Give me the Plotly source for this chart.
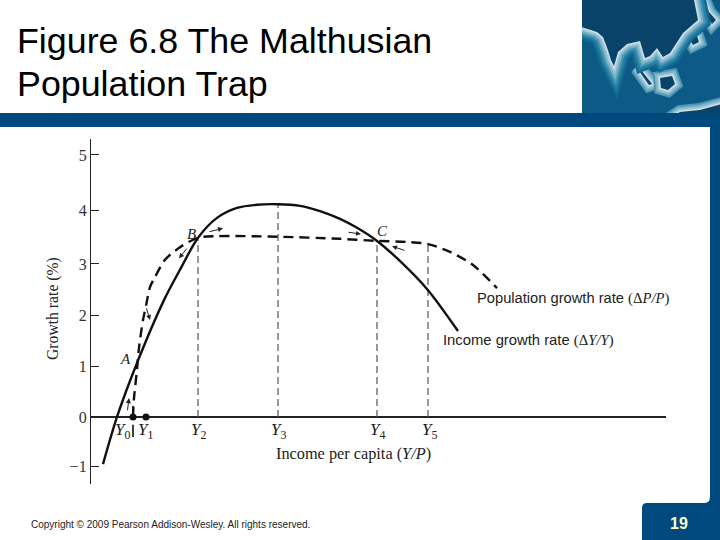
import plotly.graph_objects as go

# values (x axis has no numbers, units are arbitrary)
income_x = [12, 26, 46, 73, 89, 107, 126, 146, 166, 187, 209, 229, 249, 266, 286, 306, 337, 367]
income_y = [-0.90, 0.0, 1.03, 2.23, 2.81, 3.42, 3.80, 3.99, 4.05, 4.06, 4.03, 3.93, 3.78, 3.61, 3.36, 3.03, 2.42, 1.64]

pop_x = [42, 43, 46, 48, 52, 55, 59, 64, 74, 89, 107, 126, 187, 249, 286, 316, 337, 359, 382, 406]
pop_y = [0.0, 0.36, 0.90, 1.32, 1.85, 2.12, 2.48, 2.67, 3.0, 3.24, 3.42, 3.45, 3.44, 3.40, 3.36, 3.34, 3.30, 3.15, 2.90, 2.46]

level_names = ["Y2", "Y3", "Y4", "Y5"]
level_x = [107, 187, 286, 337]
level_top = [3.42, 4.06, 3.36, 3.30]

dot_x = [42, 55]
dot_y = [0, 0]

y_tick_pos = [-0.94, 0, 0.97, 1.93, 2.92, 3.95, 5.0]
y_tick_labels = ["\u22121", "0", "1", "2", "3", "4", "5"]

x_label_pos = [31, 54, 107, 187, 286, 338]
x_label_sub = ["0", "1", "2", "3", "4", "5"]

BLUE = "#00497f"
SANS = "Liberation Sans"
SERIF = "Liberation Serif"


def fx(px):
    return px / 720


def fy(py):
    return 1 - py / 540


def poly(points):
    return "M " + " L ".join(f"{fx(a):.4f},{fy(b):.4f}" for a, b in points) + " Z"


def rect(x0, y0, x1, y1, color):
    return dict(type="rect", xref="paper", yref="paper", x0=fx(x0), x1=fx(x1), y0=fy(y0), y1=fy(y1),
                fillcolor=color, line_width=0, layer="below")


GLOW = [(24, "#136a91"), (19, "#2580a4"), (14, "#4f98b5"), (10, "#7fb3c8"), (6, "#a5c9d8"), (3, "#c9dfe8")]


def land(points, fill="#0a4369", glow=GLOW):
    # coast glow is just the same outline stroked wide, narrow on top
    out = []
    for width, color in glow:
        out.append(dict(type="path", xref="paper", yref="paper", path=poly(points), fillcolor=fill,
                        line=dict(color=color, width=width), layer="below"))
    out.append(dict(type="path", xref="paper", yref="paper", path=poly(points), fillcolor=fill,
                    line_width=0, layer="below"))
    return out


asia = [(575, -10), (575, 25), (597, 32), (603, 37), (608, 50), (611, 60), (614, 66), (618, 52), (627, 44), (640, 41),
        (645, 58), (650, 56), (657, 48), (663, 57), (670, 53), (683, 33), (698, 20), (692, -10)]
borneo = [(660, 78), (672, 76), (675, 84), (668, 90), (661, 88)]
sumatra = [(637, 68), (641, 70), (652, 84), (649, 85)]
australia = [(668, 120), (680, 112), (700, 110), (722, 104), (722, 120)]
japan = [(704, 0), (709, 12), (716, 20), (712, 24), (704, 12)]
islands_small = [(690, 40), (697, 36), (699, 42), (693, 45)]

shapes = [rect(582, 0, 720, 113, "#0d5a86")]
small_glow = GLOW[2:]
for piece in [australia, japan, islands_small, sumatra, borneo]:
    shapes += land(piece, glow=small_glow)
shapes += land(asia)
# white page and blue frame go over the map edges
shapes.append(rect(0, 0, 582, 113.5, "white"))
shapes.append(rect(0, 113, 720, 127, BLUE))
shapes.append(rect(710, 127, 720, 540, BLUE))
shapes.append(dict(type="path", xref="paper", yref="paper", layer="below", fillcolor=BLUE, line_width=0,
                   path=f"M {fx(642)},{fy(540)} L {fx(642)},{fy(508)} Q {fx(642)},{fy(503)} {fx(647)},{fy(503)} "
                        f"L {fx(704)},{fy(503)} Q {fx(710)},{fy(503)} {fx(710)},{fy(497)} L {fx(720)},{fy(497)} "
                        f"L {fx(720)},{fy(540)} Z"))

fig = go.Figure()

for name, x, top in zip(level_names, level_x, level_top):
    fig.add_trace(go.Scatter(x=[x, x], y=[0, top], mode="lines", name=name,
                             line=dict(color="#555555", width=1.2, dash="7px,4px")))

fig.add_trace(go.Scatter(x=pop_x, y=pop_y, mode="lines", name="Population growth rate",
                         line=dict(color="#111111", width=2.4, dash="10px,6px", shape="spline", smoothing=0.8)))
fig.add_trace(go.Scatter(x=income_x, y=income_y, mode="lines", name="Income growth rate",
                         line=dict(color="#111111", width=2.4, shape="spline", smoothing=0.8)))
fig.add_trace(go.Scatter(x=[42, 42], y=[0, 0.21], mode="lines", line=dict(color="#111111", width=1.6)))
fig.add_trace(go.Scatter(x=[42, 42], y=[-0.15, -0.38], mode="lines", line=dict(color="#111111", width=1.6)))
fig.add_trace(go.Scatter(x=dot_x, y=dot_y, mode="markers", marker=dict(color="#111111", size=7)))

annotations = []


def text(px, py, s, size=14, family=SERIF, color="#222222", anchor="center", angle=0):
    annotations.append(dict(xref="paper", yref="paper", x=fx(px), y=fy(py), text=s, showarrow=False,
                            xanchor=anchor, yanchor="middle", align="left", textangle=angle,
                            font=dict(family=family, size=size, color=color)))


for pos, sub in zip(x_label_pos, x_label_sub):
    text(91 + pos, 431, f"<i>Y</i><sub>{sub}</sub>", size=17)

text(353, 453, "Income per capita (<i>Y/P</i>)", size=16.3)
text(53, 309, "Growth rate (%)", size=15.7, angle=-90)
text(125, 359, "<i>A</i>", size=15)
text(191, 234, "<i>B</i>", size=15)
text(382, 231, "<i>C</i>", size=15)

serif_span = f'<span style="font-family:{SERIF}">'
text(475, 298, f"Population growth rate {serif_span}(\u0394<i>P/P</i>)</span>", size=14.7, family=SANS, anchor="left")
text(441, 340, f"Income growth rate {serif_span}(\u0394<i>Y/Y</i>)</span>", size=14.8, family=SANS, anchor="left")

# title and footer
text(15, 41, "Figure 6.8 The Malthusian", size=35.8, family=SANS, color="black", anchor="left")
text(15, 84, "Population Trap", size=35.8, family=SANS, color="black", anchor="left")
text(29, 524, "Copyright \u00a9 2009 Pearson Addison-Wesley. All rights reserved.", size=10, family=SANS,
     color="#222222", anchor="left")
text(679, 523, "<b>19</b>", size=16, family=SANS, color="#ffffc8")

# small direction arrows on the curves
arrows = [
    (36.3, 0.10, 38, 0.36),
    (55, 2.10, 59, 1.85),
    (97, 3.24, 88, 3.03),
    (117, 3.53, 132, 3.60),
    (256, 3.53, 270, 3.49),
    (315, 3.17, 301, 3.26),
]
for x0, y0, x1, y1 in arrows:
    annotations.append(dict(x=x1, y=y1, ax=x0, ay=y0, xref="x", yref="y", axref="x", ayref="y", text="",
                            showarrow=True, arrowhead=2, arrowsize=1, arrowwidth=1, arrowcolor="#222222"))

fig.update_layout(
    width=720,
    height=540,
    margin=dict(l=0, r=0, t=0, b=0),
    paper_bgcolor="white",
    plot_bgcolor="rgba(0,0,0,0)",
    showlegend=False,
    shapes=shapes,
    annotations=annotations,
    xaxis=dict(domain=[fx(91), fx(666)], range=[0, 575], visible=False),
    yaxis=dict(
        domain=[fy(484), fy(139)],
        range=[-1.279, 5.305],
        tickmode="array",
        tickvals=y_tick_pos,
        ticktext=y_tick_labels,
        ticks="inside",
        ticklen=8,
        tickwidth=1.3,
        tickcolor="#222222",
        showgrid=False,
        showline=True,
        linecolor="#222222",
        linewidth=1.3,
        zeroline=True,
        zerolinecolor="#222222",
        zerolinewidth=1.5,
        tickfont=dict(family=SERIF, size=16, color="#333333"),
    ),
)

fig.write_html("out.html", config={"displayModeBar": False},
               post_script="document.body.style.margin='0';document.body.style.overflow='hidden';")
